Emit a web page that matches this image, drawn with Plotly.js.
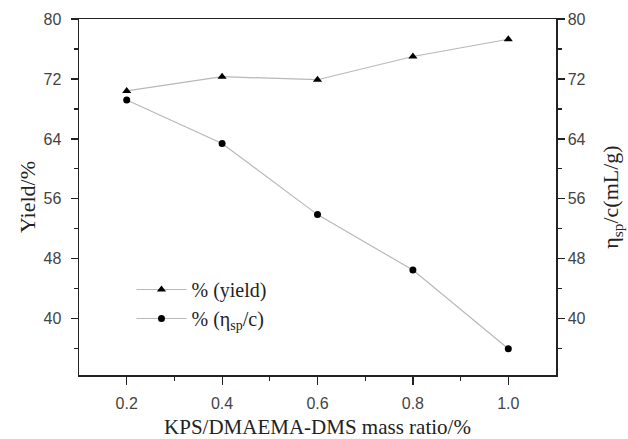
<!DOCTYPE html>
<html>
<head>
<meta charset="utf-8">
<script src="https://cdn.plot.ly/plotly-3.0.1.min.js"></script>
<style>html,body{margin:0;padding:0;background:#fff;}#chart{width:628px;height:439px;}</style>
</head>
<body>
<div id="chart"></div>
<script>
var massRatio = [0.2, 0.4, 0.6, 0.8, 1.0];
var yieldPct = [70.4, 72.3, 71.9, 75.0, 77.3];
var viscosity = [69.2, 63.4, 53.9, 46.5, 36.0];
var yTicks = [40, 48, 56, 64, 72, 80];
var xTicks = [0.2, 0.4, 0.6, 0.8, 1.0];
var xTickLabels = ['0.2', '0.4', '0.6', '0.8', '1.0'];

var lineColor = '#b8b8b8';
var axisColor = '#222';
var tickFont = {family: 'Liberation Sans, Arial, sans-serif', size: 16, color: '#444'};
var serif = 'Liberation Serif, Times New Roman, serif';

var traces = [
  {x: massRatio, y: yieldPct, name: '% (yield)', mode: 'lines+markers', yaxis: 'y',
   line: {color: lineColor, width: 1.2},
   marker: {symbol: 'triangle-up', size: 8, color: '#000'}},
  {x: massRatio, y: viscosity, name: '% (η<sub>sp</sub>/c)', mode: 'lines+markers', yaxis: 'y2',
   line: {color: lineColor, width: 1.2},
   marker: {symbol: 'circle', size: 7, color: '#000'}}
];

var yCommon = {
  range: [32.5, 80], tickvals: yTicks, ticktext: yTicks.map(String),
  ticks: 'outside', ticklen: 7, tickwidth: 1.2, tickcolor: axisColor,
  minor: {tickvals: [36, 44, 52, 60, 68, 76], ticks: 'outside', ticklen: 4, tickwidth: 1.2, tickcolor: axisColor},
  showline: true, linecolor: axisColor, linewidth: 1.5,
  showgrid: false, zeroline: false, tickfont: tickFont
};

var layout = {
  width: 628, height: 439,
  margin: {l: 79, r: 72, t: 19, b: 64},
  paper_bgcolor: '#fff', plot_bgcolor: '#fff',
  showlegend: true,
  legend: {x: 0.11, y: 0.295, xanchor: 'left', yanchor: 'top', itemwidth: 50,
           font: {family: serif, size: 20, color: '#222'}, bgcolor: 'rgba(0,0,0,0)', tracegroupgap: 0},
  xaxis: {
    range: [0.1, 1.1], tickvals: xTicks, ticktext: xTickLabels,
    ticks: 'outside', ticklen: 8, tickwidth: 1.2, tickcolor: axisColor, ticklabelstandoff: 5,
    minor: {tickvals: [0.3, 0.5, 0.7, 0.9], ticks: 'outside', ticklen: 4, tickwidth: 1.2, tickcolor: axisColor},
    showline: true, mirror: true, linecolor: axisColor, linewidth: 1.5,
    showgrid: false, zeroline: false, tickfont: tickFont,
    title: {text: 'KPS/DMAEMA-DMS mass ratio/%', font: {family: serif, size: 21, color: '#222'}, standoff: 9}
  },
  yaxis: Object.assign({}, yCommon, {
    side: 'left', ticklabelstandoff: 6,
    title: {text: 'Yield/%', font: {family: serif, size: 22, color: '#222'}, standoff: 2}
  }),
  yaxis2: Object.assign({}, yCommon, {
    side: 'right', overlaying: 'y',
    title: {text: 'η<sub>sp</sub>/c(mL/g)', font: {family: serif, size: 22, color: '#222'}, standoff: 18}
  })
};

Plotly.newPlot('chart', traces, layout, {displayModeBar: false, staticPlot: true});
</script>
</body>
</html>
